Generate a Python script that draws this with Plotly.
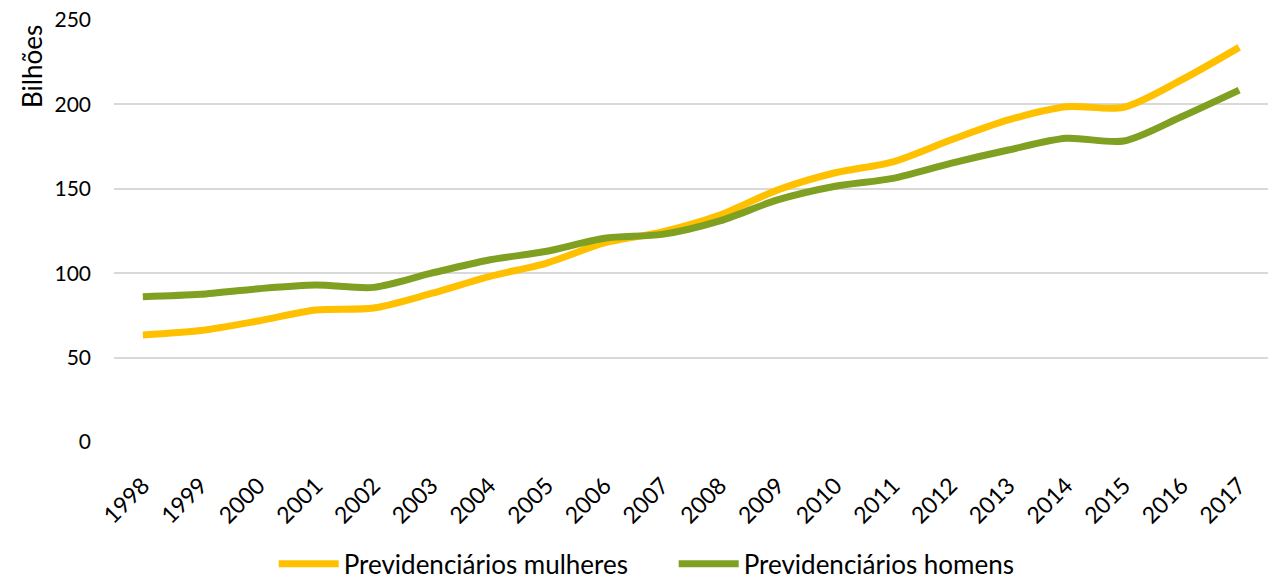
import plotly.graph_objects as go

anos = [str(a) for a in range(1998, 2018)]
mulheres = [63.4, 66.0, 71.7, 78.2, 79.4, 88.0, 98.0, 106.0, 117.9, 124.5, 134.5,
            149.3, 159.5, 166.0, 178.9, 190.8, 198.6, 198.3, 214.5, 233.8]
homens = [86.1, 87.5, 90.8, 93.0, 91.6, 100.0, 107.8, 113.0, 120.7, 123.0, 131.0,
          143.4, 151.5, 156.2, 165.1, 173.0, 179.9, 178.3, 192.7, 208.5]

FONT = "Lato, 'Open Sans', sans-serif"

fig = go.Figure()
fig.add_trace(go.Scatter(
    x=anos, y=mulheres, mode="lines", name="Previdenciários mulheres",
    line=dict(color="#FFC000", width=7, shape="spline", smoothing=0.8),
))
fig.add_trace(go.Scatter(
    x=anos, y=homens, mode="lines", name="Previdenciários homens",
    line=dict(color="#7FA021", width=7, shape="spline", smoothing=0.8),
))

fig.update_layout(
    width=1269, height=581,
    margin=dict(l=114, r=1, t=20, b=139, autoexpand=False),
    paper_bgcolor="white", plot_bgcolor="white",
    font=dict(family=FONT, size=21, color="#000000"),
    showlegend=True,
    legend=dict(orientation="h", x=0.485, xanchor="center", y=-0.289, yanchor="middle",
                font=dict(size=26), itemwidth=60, traceorder="normal",
                entrywidth=325, entrywidthmode="pixels"),
    xaxis=dict(
        type="category", range=[-0.5, 19.5], tickangle=-45,
        showgrid=False, zeroline=False, showline=False,
        tickfont=dict(size=23), ticks="outside", ticklen=20, tickcolor="rgba(0,0,0,0)",
        automargin=False,
    ),
    yaxis=dict(
        range=[0, 250], tickvals=[0, 50, 100, 150, 200, 250],
        showgrid=True, gridcolor="#D9D9D9", gridwidth=1.5,
        zeroline=False, showline=False, ticks="",
        tickfont=dict(size=21), ticklabelstandoff=22, automargin=False,
    ),
    annotations=[dict(
        text="Bilhões", textangle=-90, showarrow=False,
        xref="paper", yref="paper", x=-0.0711, y=0.891,
        xanchor="center", yanchor="middle", font=dict(size=26),
    )],
)

fig.write_html("out.html")
